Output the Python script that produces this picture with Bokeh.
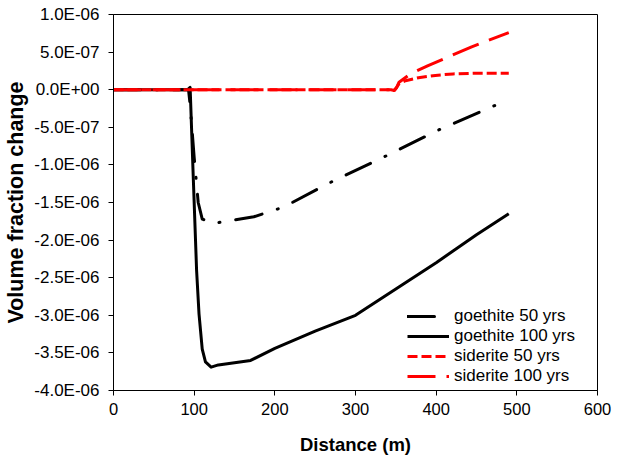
from bokeh.plotting import figure
from bokeh.models import FixedTicker, CustomJSTickFormatter, Range1d, Legend, LegendItem
from bokeh.embed import file_html
from bokeh.resources import INLINE

# ---- data (y values in units of 1e-6) ----
goethite_50_x = [0, 93, 95, 100, 105, 110, 123, 145, 174, 211, 273, 340, 402, 490]
goethite_50_y = [0, 0, -0.2, -0.9, -1.5, -1.72, -1.78, -1.74, -1.69, -1.56, -1.21, -0.87, -0.54, -0.13]

goethite_100_x = [0, 92, 95, 99, 103, 106, 110, 114, 121, 130, 170, 200, 250, 300, 350, 400, 450, 490]
goethite_100_y = [0, 0, 0.03, -1.2, -2.4, -2.98, -3.45, -3.62, -3.69, -3.66, -3.6, -3.44, -3.21, -3.0,
                  -2.65, -2.3, -1.93, -1.65]

siderite_50_x = [0, 344, 348, 351, 354, 362, 378, 399, 421, 455, 490]
siderite_50_y = [0, 0, -0.01, 0.03, 0.08, 0.12, 0.16, 0.19, 0.21, 0.22, 0.22]

siderite_100_x = [0, 344, 348, 351, 354, 368, 390, 444, 490]
siderite_100_y = [0, 0, -0.01, 0.03, 0.1, 0.21, 0.32, 0.57, 0.76]

series_labels = ["goethite 50 yrs", "goethite 100 yrs", "siderite 50 yrs", "siderite 100 yrs"]
x_ticks = [0, 100, 200, 300, 400, 500, 600]
y_ticks_units = [1.0, 0.5, 0.0, -0.5, -1.0, -1.5, -2.0, -2.5, -3.0, -3.5, -4.0]
unit = 1e-6

FONT = "Liberation Sans"

p = figure(width=619, height=457, output_backend="svg", toolbar_location=None,
           x_range=Range1d(0, 600), y_range=Range1d(-4.0 * unit, 1.0 * unit),
           min_border_left=113, min_border_right=22, min_border_top=14, min_border_bottom=67,
           background_fill_color="white", border_fill_color="white")

p.xgrid.visible = False
p.ygrid.visible = False
p.outline_line_color = "black"
p.outline_line_width = 1
p.outline_line_alpha = 1

def sc(v):
    return [a * unit for a in v]

r1 = p.line(goethite_50_x, sc(goethite_50_y), line_color="black", line_width=3,
            line_dash="27 16 1 16", line_cap="round", line_join="round")
r2 = p.line(goethite_100_x, sc(goethite_100_y), line_color="black", line_width=3,
            line_join="round")
r3 = p.line(siderite_50_x, sc(siderite_50_y), line_color="#FF0000", line_width=3,
            line_dash="10 4")
r4 = p.line(siderite_100_x, sc(siderite_100_y), line_color="#FF0000", line_width=3,
            line_dash="28 11")

# axes
p.xaxis.ticker = FixedTicker(ticks=x_ticks)
p.yaxis.ticker = FixedTicker(ticks=[t * unit for t in y_ticks_units])
p.yaxis.formatter = CustomJSTickFormatter(code="""
    const s = tick.toExponential(1);
    const parts = s.split('e');
    const n = parseInt(parts[1]);
    const sign = n < 0 ? '-' : '+';
    let m = parts[0];
    if (m == '-0.0') { m = '0.0'; }
    return m + 'E' + sign + String(Math.abs(n)).padStart(2, '0');
""")

for ax in (p.xaxis[0], p.yaxis[0]):
    ax.axis_line_color = "black"
    ax.axis_line_width = 1
    ax.major_tick_line_color = "black"
    ax.major_tick_out = 5
    ax.major_tick_in = 0
    ax.minor_tick_line_color = None
    ax.major_label_text_font = FONT
    ax.major_label_text_color = "black"
    ax.axis_label_text_font = FONT
    ax.axis_label_text_font_style = "bold"
    ax.axis_label_text_color = "black"

p.xaxis.axis_label = "Distance (m)"
p.xaxis.major_label_text_font_size = "16.5px"
p.xaxis.axis_label_text_font_size = "18.5px"
p.xaxis.major_label_standoff = 7
p.xaxis.axis_label_standoff = 16

p.yaxis.axis_label = "Volume fraction change"
p.yaxis.major_label_text_font_size = "17px"
p.yaxis.axis_label_text_font_size = "21.5px"
p.yaxis.major_label_standoff = 9
p.yaxis.axis_label_standoff = 3

legend = Legend(items=[LegendItem(label=series_labels[0], renderers=[r1]),
                       LegendItem(label=series_labels[1], renderers=[r2]),
                       LegendItem(label=series_labels[2], renderers=[r3]),
                       LegendItem(label=series_labels[3], renderers=[r4])],
                location=(294, 4))
legend.label_text_font = FONT
legend.label_text_font_size = "17px"
legend.label_text_color = "black"
legend.glyph_width = 42
legend.glyph_height = 18
legend.label_height = 18
legend.spacing = 0
legend.padding = 0
legend.margin = 0
legend.label_standoff = 5
legend.border_line_alpha = 0
legend.background_fill_alpha = 0
p.add_layout(legend)

open("out.html", "w").write(file_html(p, INLINE))
